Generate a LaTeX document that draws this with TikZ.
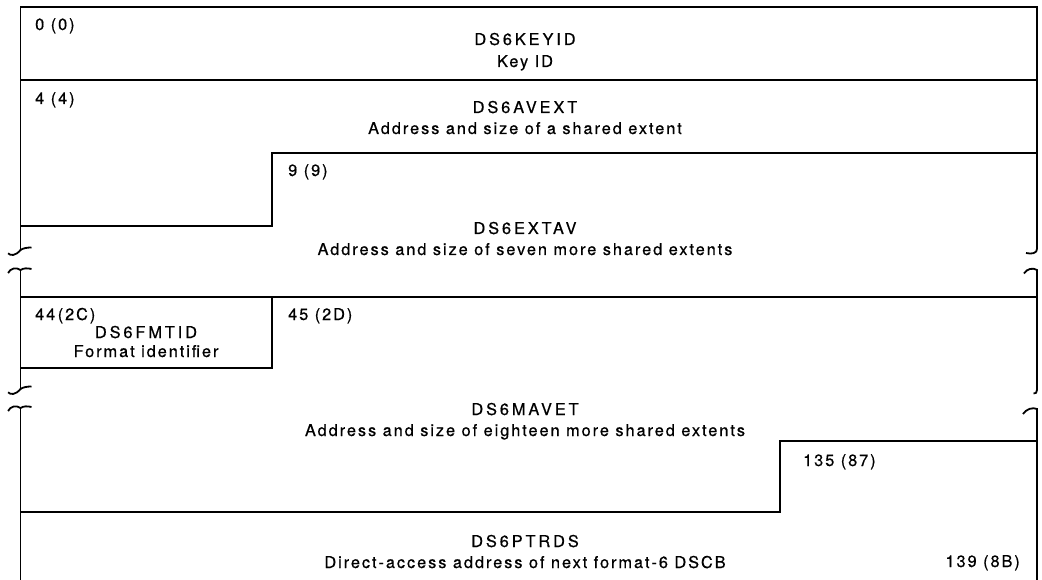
\documentclass[tikz,border=0pt]{standalone}
\usepackage{fontspec}
\setmainfont{TeX Gyre Heros}[LetterSpace=12,FakeBold=0.6]
\newfontfamily\capsfont{TeX Gyre Heros}[LetterSpace=18,FakeBold=0.6]
\newcommand\dsfont{\fontsize{16.3}{18}\selectfont}
\newcommand\dscaps{\capsfont\fontsize{16.3}{18}\selectfont}
\tikzset{
  wall/.style={line width=1.8pt, line join=miter, line cap=butt},
  lbl/.style={anchor=base west, inner sep=0pt, font=\dsfont},
  ttl/.style={anchor=base, inner sep=0pt, font=\dscaps},
  dsc/.style={anchor=base, inner sep=0pt, font=\dsfont},
  rlbl/.style={anchor=base east, inner sep=0pt, font=\dsfont}
}
\begin{document}
\begin{tikzpicture}[x=1pt,y=-1pt]
\useasboundingbox (0,0) rectangle (1042,580);
% corner coordinates
\coordinate (TL) at (20.5,7);
\coordinate (TR) at (1037,7);
% outer frame: top segment
\draw[wall] (20.5,250) -- (TL) -- (TR) -- (1037,249);
% left break marks
\draw[wall] (8.1,253.3) .. controls (10.5,256) and (15.5,256) .. (20.5,250) .. controls (23.5,248) and (27.5,247.5) .. (31.5,247.5);
\draw[wall] (8.1,273) .. controls (10.5,268) and (16.5,267) .. (20.5,270) .. controls (23.5,268) and (27.5,268) .. (31.5,269);
\draw[wall] (20.5,270) -- (20.5,389);
\draw[wall] (8.1,392.3) .. controls (10.5,395) and (15.5,395) .. (20.5,389) .. controls (23.5,387) and (27.5,386.5) .. (31.5,386.5);
\draw[wall] (8.1,411) .. controls (10.5,406) and (16.5,405) .. (20.5,408) .. controls (23.5,406) and (27.5,406) .. (31.5,407);
\draw[wall] (20.5,408) -- (20.5,580);
% right break marks
\draw[wall] (1037,249) .. controls (1037,253) and (1032,254.5) .. (1026,253);
\draw[wall] (1024,273.5) .. controls (1027,268.5) and (1033,267.5) .. (1037,270) -- (1037,390) .. controls (1037,393) and (1035.5,393.5) .. (1033.5,393.5);
\draw[wall] (1023,414) .. controls (1026,409) and (1033,407) .. (1037,409) -- (1037,580);
% inner lines
\draw[wall] (20.5,80) -- (1037,80);
\draw[wall] (20.5,226) -- (272,226) -- (272,153) -- (1037,153);
\draw[wall] (20.5,297) -- (1037,297);
\draw[wall] (272,297) -- (272,368) -- (20.5,368);
\draw[wall] (20.5,512) -- (780,512) -- (780,441) -- (1037,441);
% texts
\node[lbl] (o0) at (35,30) {0 (0)};
\node[ttl] (keyid) at (525,45) {DS6KEYID};
\node[dsc] (keyidd) at (525,67) {Key ID};
\node[lbl] (o4) at (35,104) {4 (4)};
\node[ttl] (avext) at (525,113) {DS6AVEXT};
\node[dsc] (avextd) at (525,134) {Address and size of a shared extent};
\node[lbl] (o9) at (288,176) {9 (9)};
\node[ttl] (extav) at (525,234) {DS6EXTAV};
\node[dsc] (extavd) at (525,255) {Address and size of seven more shared extents};
\node[lbl] (o44) at (35,320) {44\hspace{2.5pt}(2C)};
\node[ttl] (fmtid) at (146,338) {DS6FMTID};
\node[dsc] (fmtidd) at (146,357) {Format identifier};
\node[lbl] (o45) at (288,320) {45 (2D)};
\node[ttl] (mavet) at (525,415) {DS6MAVET};
\node[dsc] (mavetd) at (525,436) {Address and size of eighteen more shared extents};
\node[lbl] (o135) at (803,466) {135 (87)};
\node[ttl] (ptrds) at (525,547) {DS6PTRDS};
\node[dsc] (ptrdsd) at (525,568) {Direct-access address of next format-6 DSCB};
\node[rlbl] (o139) at (1020,567) {139 (8B)};
\end{tikzpicture}
\end{document}
